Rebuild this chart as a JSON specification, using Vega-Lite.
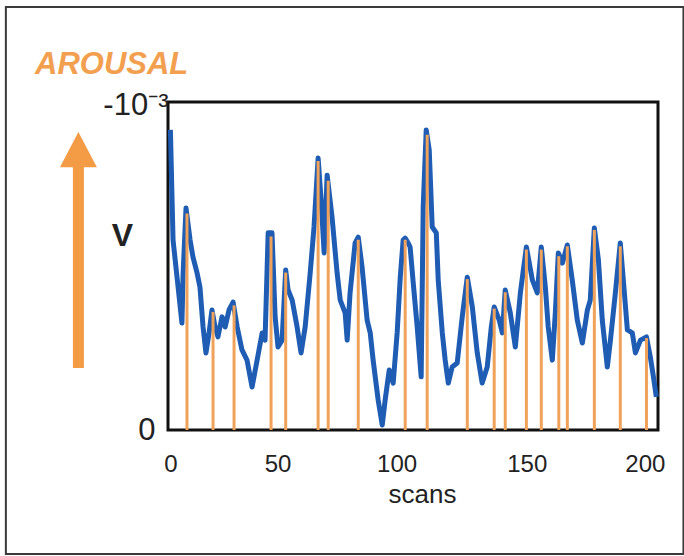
{
  "$schema": "https://vega.github.io/schema/vega-lite/v6.json",
  "width": 490,
  "height": 328,
  "autosize": "none",
  "padding": {"left": 168, "top": 102, "right": 26, "bottom": 126},
  "background": "white",
  "config": {
    "font": "Liberation Sans",
    "view": {"stroke": "#111", "strokeWidth": 3}
  },
  "title": {
    "text": "AROUSAL",
    "anchor": "start",
    "frame": "group",
    "dx": -133,
    "dy": 99,
    "offset": 0,
    "baseline": "alphabetic",
    "font": "Liberation Sans",
    "fontSize": 31,
    "fontWeight": "bold",
    "fontStyle": "italic",
    "color": "#f2a04f"
  },
  "datasets": {
    "trace": [
      {"scan": 0, "V": -0.000915}, {"scan": 0.7, "V": -0.000701}, {"scan": 1.1, "V": -0.000579},
      {"scan": 3.2, "V": -0.000436}, {"scan": 4.8, "V": -0.000326}, {"scan": 5.3, "V": -0.000479},
      {"scan": 6.5, "V": -0.000677}, {"scan": 8.2, "V": -0.000579}, {"scan": 9.4, "V": -0.000527},
      {"scan": 11.1, "V": -0.000479}, {"scan": 12.3, "V": -0.000436}, {"scan": 13.6, "V": -0.000314},
      {"scan": 14.8, "V": -0.000235}, {"scan": 16.1, "V": -0.000296}, {"scan": 17.3, "V": -0.000366},
      {"scan": 18.6, "V": -0.000314}, {"scan": 19.8, "V": -0.000284}, {"scan": 21.5, "V": -0.000345},
      {"scan": 22.8, "V": -0.000314}, {"scan": 24.4, "V": -0.000366}, {"scan": 26.1, "V": -0.00039},
      {"scan": 27.8, "V": -0.000314}, {"scan": 29.8, "V": -0.000244}, {"scan": 31.9, "V": -0.000213},
      {"scan": 34.0, "V": -0.000131}, {"scan": 36.1, "V": -0.000213}, {"scan": 38.2, "V": -0.000296},
      {"scan": 39.4, "V": -0.000274}, {"scan": 40.7, "V": -0.000601}, {"scan": 42.3, "V": -0.000601},
      {"scan": 43.6, "V": -0.000345}, {"scan": 44.8, "V": -0.000253}, {"scan": 46.5, "V": -0.000274},
      {"scan": 48.0, "V": -0.000488}, {"scan": 49.0, "V": -0.000427}, {"scan": 50.7, "V": -0.000396},
      {"scan": 52.75, "V": -0.000314}, {"scan": 54.4, "V": -0.000235}, {"scan": 56.1, "V": -0.000314},
      {"scan": 58.2, "V": -0.000479}, {"scan": 59.8, "V": -0.000619}, {"scan": 61.5, "V": -0.000829},
      {"scan": 62.75, "V": -0.000701}, {"scan": 64.0, "V": -0.00054}, {"scan": 65.25, "V": -0.000777},
      {"scan": 67.3, "V": -0.000649}, {"scan": 69.4, "V": -0.000479}, {"scan": 70.7, "V": -0.000396},
      {"scan": 72.75, "V": -0.000357}, {"scan": 73.6, "V": -0.000274}, {"scan": 74.8, "V": -0.000418},
      {"scan": 76.9, "V": -0.00057}, {"scan": 78.2, "V": -0.000588}, {"scan": 79.8, "V": -0.000497},
      {"scan": 81.9, "V": -0.000335}, {"scan": 83.2, "V": -0.000296}, {"scan": 84.4, "V": -0.000213},
      {"scan": 86.5, "V": -0.000091}, {"scan": 88.2, "V": -0.000015}, {"scan": 89.4, "V": -0.000091},
      {"scan": 91.1, "V": -0.000183}, {"scan": 92.75, "V": -0.000143}, {"scan": 94.4, "V": -0.000296},
      {"scan": 95.7, "V": -0.000466}, {"scan": 96.9, "V": -0.000579}, {"scan": 97.75, "V": -0.000585},
      {"scan": 99.0, "V": -0.00057}, {"scan": 99.8, "V": -0.000558}, {"scan": 101.1, "V": -0.000448},
      {"scan": 102.75, "V": -0.000314}, {"scan": 104.4, "V": -0.000162}, {"scan": 105.25, "V": -0.00068},
      {"scan": 106.5, "V": -0.000915}, {"scan": 107.75, "V": -0.000854}, {"scan": 109.0, "V": -0.000619},
      {"scan": 110.7, "V": -0.000601}, {"scan": 111.5, "V": -0.000457}, {"scan": 113.2, "V": -0.000296},
      {"scan": 114.4, "V": -0.000213}, {"scan": 115.7, "V": -0.000143}, {"scan": 117.3, "V": -0.000192},
      {"scan": 119.4, "V": -0.000204}, {"scan": 121.5, "V": -0.000345}, {"scan": 123.6, "V": -0.000466},
      {"scan": 125.7, "V": -0.000375}, {"scan": 127.75, "V": -0.000235}, {"scan": 129.8, "V": -0.000143},
      {"scan": 131.9, "V": -0.000192}, {"scan": 133.6, "V": -0.000314}, {"scan": 134.8, "V": -0.000375},
      {"scan": 136.9, "V": -0.000335}, {"scan": 138.2, "V": -0.000296}, {"scan": 139.4, "V": -0.000427},
      {"scan": 141.5, "V": -0.000357}, {"scan": 143.6, "V": -0.000253}, {"scan": 145.7, "V": -0.000418},
      {"scan": 148.2, "V": -0.000558}, {"scan": 150.7, "V": -0.000457}, {"scan": 152.75, "V": -0.000418},
      {"scan": 154.4, "V": -0.000558}, {"scan": 156.1, "V": -0.000436}, {"scan": 157.3, "V": -0.000314},
      {"scan": 159.0, "V": -0.000213}, {"scan": 160.25, "V": -0.000357}, {"scan": 161.5, "V": -0.00054},
      {"scan": 163.2, "V": -0.000509}, {"scan": 165.25, "V": -0.000564}, {"scan": 167.3, "V": -0.000457},
      {"scan": 169.4, "V": -0.000335}, {"scan": 171.5, "V": -0.000265}, {"scan": 173.6, "V": -0.000366},
      {"scan": 174.8, "V": -0.000396}, {"scan": 176.5, "V": -0.000616}, {"scan": 178.2, "V": -0.000518},
      {"scan": 179.8, "V": -0.000335}, {"scan": 181.9, "V": -0.000192}, {"scan": 183.2, "V": -0.000274},
      {"scan": 185.25, "V": -0.000418}, {"scan": 187.3, "V": -0.00057}, {"scan": 189.0, "V": -0.000418},
      {"scan": 190.25, "V": -0.000305}, {"scan": 192.3, "V": -0.000296}, {"scan": 193.6, "V": -0.000235},
      {"scan": 195.7, "V": -0.000274}, {"scan": 198.2, "V": -0.000284}, {"scan": 199.8, "V": -0.000223},
      {"scan": 201.1, "V": -0.000162}, {"scan": 202.3, "V": -0.000101}
    ],
    "peaks": [
      {"scan": 6.9, "V": -0.00066}, {"scan": 17.75, "V": -0.00036}, {"scan": 26.5, "V": -0.00038},
      {"scan": 41.9, "V": -0.00059}, {"scan": 48.0, "V": -0.00048}, {"scan": 61.5, "V": -0.00082},
      {"scan": 65.7, "V": -0.00076}, {"scan": 78.2, "V": -0.00058}, {"scan": 97.75, "V": -0.00058},
      {"scan": 106.9, "V": -0.0009}, {"scan": 123.6, "V": -0.00046}, {"scan": 134.8, "V": -0.00037},
      {"scan": 139.4, "V": -0.00042}, {"scan": 148.2, "V": -0.00055}, {"scan": 154.4, "V": -0.00055},
      {"scan": 161.7, "V": -0.00053}, {"scan": 165.25, "V": -0.00056}, {"scan": 176.5, "V": -0.00061},
      {"scan": 187.3, "V": -0.00056}, {"scan": 198.2, "V": -0.00028}
    ],
    "arrow": [{"scan": -38.3, "V": -0.000189, "V2": -0.00081}],
    "arrowhead": [{"scan": -38.3, "V": -0.000855}],
    "frame": [{"scan": -68.5, "scan2": 213.6, "V": -0.00129, "V2": 0.000378}]
  },
  "layer": [
    {
      "data": {"name": "trace"},
      "mark": {"type": "line", "color": "#1f5cb3", "strokeWidth": 5, "strokeJoin": "round"},
      "encoding": {
        "x": {
          "field": "scan",
          "type": "quantitative",
          "scale": {"domain": [-1, 203], "nice": false, "zero": false},
          "axis": {
            "values": [0, 50, 100, 150, 200],
            "title": "scans",
            "labelFontSize": 24,
            "labelColor": "#222",
            "labelFlush": false,
            "ticks": false,
            "tickSize": 0,
            "domain": false,
            "grid": false,
            "labelPadding": 22,
            "labelOffset": {"condition": [
              {"test": "datum.value == 50", "value": -13},
              {"test": "datum.value == 100", "value": -14},
              {"test": "datum.value == 150", "value": -4},
              {"test": "datum.value == 200", "value": -6}
            ], "value": 0},
            "titleFontSize": 26,
            "titleFontWeight": "normal",
            "titleColor": "#222",
            "titleX": 254,
            "titleY": 72,
            "titleAlign": "center",
            "titleBaseline": "alphabetic"
          }
        },
        "y": {
          "field": "V",
          "type": "quantitative",
          "scale": {"domain": [0, -0.001], "nice": false, "zero": false},
          "axis": {
            "values": [0, -0.001],
            "labelExpr": "datum.value == 0 ? '0' : '-10⁻³'",
            "labelFontSize": 31,
            "labelColor": "#222",
            "labelAlign": "right",
            "labelBaseline": "middle",
            "labelFlush": false,
            "labelBound": false,
            "labelPadding": {"condition": {"test": "datum.value == 0", "value": 13}, "value": 0},
            "labelOffset": {"condition": {"test": "datum.value < 0", "value": 3}, "value": 0},
            "ticks": false,
            "tickSize": 0,
            "domain": false,
            "grid": false,
            "title": "V",
            "titleAngle": 0,
            "titleFontSize": 32,
            "titleFontWeight": "bold",
            "titleColor": "#222",
            "titleX": -46,
            "titleY": 133,
            "titleAlign": "center",
            "titleBaseline": "middle"
          }
        }
      }
    },
    {
      "data": {"name": "frame"},
      "mark": {"type": "rect", "fillOpacity": 0, "stroke": "#3a3a3a", "strokeWidth": 2},
      "encoding": {
        "x": {"field": "scan", "type": "quantitative"},
        "x2": {"field": "scan2"},
        "y": {"field": "V", "type": "quantitative"},
        "y2": {"field": "V2"}
      }
    },
    {
      "data": {"name": "arrow"},
      "mark": {"type": "rule", "color": "#f39b45", "strokeWidth": 11},
      "encoding": {
        "x": {"field": "scan", "type": "quantitative"},
        "y": {"field": "V", "type": "quantitative"},
        "y2": {"field": "V2"}
      }
    },
    {
      "data": {"name": "arrowhead"},
      "mark": {"type": "point", "shape": "M0,-0.95L1,0.95L-1,0.95Z", "size": 1369, "filled": true, "color": "#f39b45", "opacity": 1},
      "encoding": {
        "x": {"field": "scan", "type": "quantitative"},
        "y": {"field": "V", "type": "quantitative"}
      }
    },
    {
      "data": {"name": "peaks"},
      "mark": {"type": "rule", "color": "#f0a25a", "strokeWidth": 3},
      "encoding": {
        "x": {"field": "scan", "type": "quantitative"},
        "y": {"field": "V", "type": "quantitative"},
        "y2": {"datum": 0}
      }
    }
  ]
}
